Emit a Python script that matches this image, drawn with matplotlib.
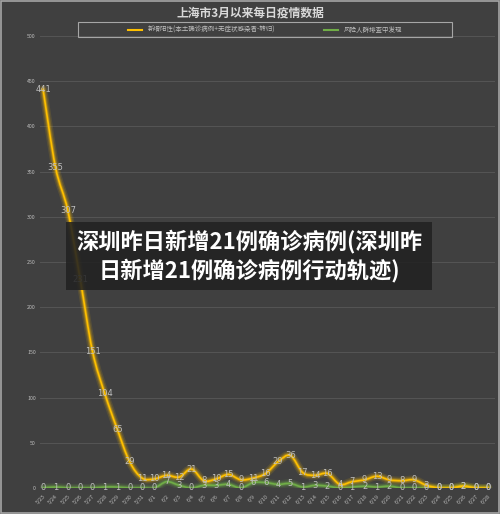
import matplotlib
matplotlib.use("Agg")
import matplotlib.pyplot as plt
from matplotlib.path import Path
from matplotlib.patches import PathPatch, Rectangle
import matplotlib.patheffects as pe

plt.rcParams['font.family'] = ['Noto Sans CJK SC', 'DejaVu Sans']

# dates 5/23 .. 6/28
dates = ['5/23', '5/24', '5/25', '5/26', '5/27', '5/28', '5/29', '5/30', '5/31'] + \
        ['6/%d' % d for d in range(1, 29)]
new_pos = [441, 355, 307, 231, 151, 104, 65, 29, 11, 10, 14, 12, 21, 8, 10, 15, 9, 11,
           16, 29, 36, 17, 14, 16, 4, 7, 9, 13, 9, 8, 9, 3, 0, 0, 2, 0, 0]
risk_grp = [0, 1, 0, 0, 0, 1, 1, 0, 0, 0, 7, 3, 0, 3, 3, 4, 0, 6, 6, 4, 5, 1, 3, 2,
            0, 1, 2, 1, 2, 0, 0, 0, 0, 0, 2, 0, 0]
series_names = ['新增阳性(本土确诊病例+无症状感染者-转归)', '风险人群排查中发现']
title = '上海市3月以来每日疫情数据'
banner = '深圳昨日新增21例确诊病例(深圳昨\n日新增21例确诊病例行动轨迹)'

BG = '#404040'
GOLD = '#FFC000'
GREEN = '#70AD47'
TXT = '#bfbfbf'

fig = plt.figure(figsize=(5.0, 5.14), dpi=100)
fig.patch.set_facecolor(BG)
ax = fig.add_axes([0.08, 1 - 488 / 514, 0.91, 452 / 514])
ax.set_facecolor(BG)


# smooth curve through points (bezier, like excel smoothed line)
def smooth_path(xs, ys):
    pts = list(zip(xs, ys))
    verts = [pts[0]]
    codes = [Path.MOVETO]
    n = len(pts)
    for i in range(n - 1):
        p0 = pts[i - 1] if i > 0 else pts[i]
        p1 = pts[i]
        p2 = pts[i + 1]
        p3 = pts[i + 2] if i + 2 < n else pts[i + 1]
        c1 = (p1[0] + (p2[0] - p0[0]) / 6, p1[1] + (p2[1] - p0[1]) / 6)
        c2 = (p2[0] - (p3[0] - p1[0]) / 6, p2[1] - (p3[1] - p1[1]) / 6)
        verts += [c1, c2, p2]
        codes += [Path.CURVE4] * 3
    return Path(verts, codes)


x = list(range(len(dates)))
for vals, col in [(risk_grp, GREEN), (new_pos, GOLD)]:
    patch = PathPatch(smooth_path(x, vals), fill=False, edgecolor=col, lw=1.2,
                      capstyle='round', joinstyle='round', zorder=3)
    patch.set_path_effects([
        pe.Stroke(linewidth=6, foreground=col, alpha=0.12),
        pe.Stroke(linewidth=4, foreground=col, alpha=0.2),
        pe.Stroke(linewidth=2.5, foreground=col, alpha=0.35),
        pe.Normal()])
    ax.add_patch(patch)
    for xi, v in zip(x, vals):
        ax.text(xi, v, str(v), color=TXT, fontsize=6, ha='center', va='center',
                zorder=4, family='DejaVu Sans')

ax.set_xlim(-0.25, 36.55)
ax.set_ylim(0, 500)
ax.set_yticks(range(0, 501, 50))
ax.set_xticks(x)
ax.set_xticklabels(dates, rotation=45, ha='right', va='top', rotation_mode='anchor')
ax.tick_params(axis='both', length=0, colors=TXT, labelsize=3.8)
ax.tick_params(axis='x', pad=4)
ax.tick_params(axis='y', pad=3)
ax.grid(axis='y', color='#555555', lw=0.7)
ax.set_axisbelow(True)
for s in ax.spines.values():
    s.set_visible(False)

# legend (frame drawn separately, it is wider than the entries)
ax.plot([], [], color=GOLD, lw=1.5, label=series_names[0])
ax.plot([], [], color=GREEN, lw=1.5, label=series_names[1])
leg = fig.legend(loc='center', bbox_to_anchor=(265 / 500, 1 - 30 / 514), ncol=2,
                 fontsize=4.7, frameon=False, labelcolor=TXT, handlelength=2.2,
                 columnspacing=7.5)
fig.patches.append(Rectangle((78 / 500, 1 - 37 / 514), 374 / 500, 15 / 514,
                             transform=fig.transFigure, fill=False,
                             edgecolor='#a6a6a6', lw=0.8))

fig.text(0.5, 1 - 13 / 514, title, color='#d9d9d9', fontsize=8.5, ha='center',
         va='center', fontweight='bold')

# banner overlay
fig.patches.append(Rectangle((66 / 500, 1 - 290 / 514), 366 / 500, 68 / 514,
                             transform=fig.transFigure, facecolor='#222222',
                             alpha=0.88, edgecolor='none', zorder=5))
fig.text(249 / 500, 1 - 256 / 514, banner, color='white', fontsize=16,
         fontweight='heavy', ha='center', va='center', linespacing=1.25, zorder=6)

# outer border
fig.patches.append(Rectangle((0.001, 0.001), 0.997, 0.997, transform=fig.transFigure,
                             fill=False, edgecolor='#a6a6a6', lw=1.2, zorder=7))

fig.savefig('out.png', dpi=100, facecolor=BG)
